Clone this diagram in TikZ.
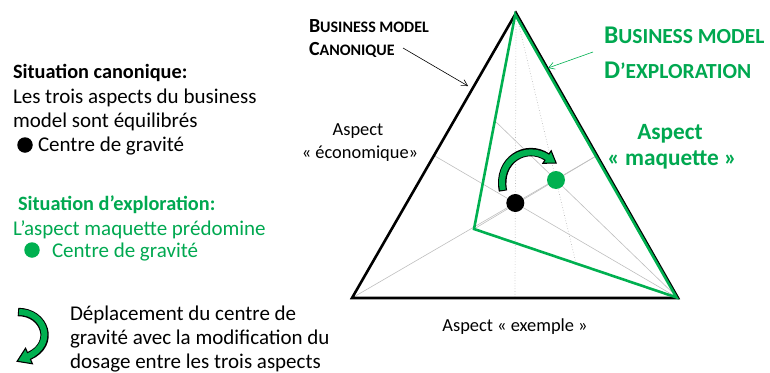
\documentclass[tikz,border=0pt]{standalone}
\usepackage{fontspec}
\setmainfont{Carlito}
\usetikzlibrary{calc,arrows.meta}
\definecolor{bmgreen}{RGB}{0,176,80}
\definecolor{txtgreen}{RGB}{0,168,80}
\definecolor{medgray}{RGB}{190,190,190}
\begin{document}
\begin{tikzpicture}[x=1pt,y=-1pt,
  every node/.style={inner sep=0pt,outer sep=0pt},
  bodytxt/.style={font=\fontsize{21}{25}\selectfont,anchor=base west},
  boldtxt/.style={font=\fontsize{20.3}{25}\selectfont\bfseries,anchor=base west},
  asptxt/.style={font=\fontsize{18.4}{22}\selectfont,anchor=base},
  maqtxt/.style={font=\fontsize{23.3}{26}\selectfont\bfseries,anchor=base,text=txtgreen},
  gdot/.style={circle,minimum size=18pt},
  ldot/.style={circle,minimum size=15.5pt},
  median/.style={medgray,line width=0.6pt},
  dmedian/.style={medgray,line width=0.7pt,dotted},
  pointer/.style={line width=0.6pt,-{Straight Barb[length=6pt,width=7pt]}},
]
\useasboundingbox (0,0) rectangle (770,372);

% ---- triangle vertices
\coordinate (A) at (516,13);
\coordinate (L) at (352,298);
\coordinate (R) at (678,298);
\coordinate (G) at (474,229);
\coordinate (mLR) at ($(L)!0.5!(R)$);
\coordinate (mAR) at ($(A)!0.5!(R)$);
\coordinate (mAL) at ($(A)!0.5!(L)$);
\coordinate (mGR) at ($(G)!0.5!(R)$);
\coordinate (mAG) at ($(A)!0.5!(G)$);
\coordinate (cB) at ($1/3*(A)+1/3*(L)+1/3*(R)$);
\coordinate (cG) at ($1/3*(A)+1/3*(G)+1/3*(R)$);

% ---- medians
\draw[dmedian] (A) -- (mLR);
\draw[median] (L) -- (mAR);
\draw[median] (R) -- (mAL);
\draw[dmedian] (A) -- (mGR);
\draw[median] (G) -- (mAR);
\draw[median] (R) -- (mAG);

% ---- triangles
\draw[line width=2.6pt,line join=miter] (A) -- (L) -- (R) -- cycle;
\draw[bmgreen,line width=2.6pt,line join=miter] ($(A)+(-0.8,1.6)$) -- (G) -- ($(R)+(-1.6,-0.6)$) -- cycle;

% ---- centres of gravity
\node[gdot,fill=black] (dotB) at (cB) {};
\node[gdot,fill=bmgreen] (dotG) at (cG) {};

% ---- curved arrow in triangle
\coordinate (ma0) at (503,191);
\coordinate (mc1) at (497,160);
\coordinate (mc2) at (526,143);
\coordinate (ma1) at (547,157);
\draw[line width=8.4pt] (ma0) .. controls (mc1) and (mc2) .. (ma1);
\filldraw[fill=bmgreen,draw=black,line width=1.1pt,line join=miter]
  ($(ma1)!7.5pt!90:(mc2)$) -- ($(ma1)!-11pt!(mc2)$) -- ($(ma1)!7.5pt!-90:(mc2)$) -- cycle;
\draw[bmgreen,line width=6pt,shorten <=1.1pt,shorten >=-1.5pt] (ma0) .. controls (mc1) and (mc2) .. (ma1);

% ---- legend arrow
\coordinate (la0) at (18,312);
\coordinate (lc1) at (45,312);
\coordinate (lc2) at (56,344);
\coordinate (la1) at (29,356);
\draw[line width=8.4pt] (la0) .. controls (lc1) and (lc2) .. (la1);
\filldraw[fill=bmgreen,draw=black,line width=1.1pt,line join=miter]
  ($(la1)!8.5pt!90:(lc2)$) -- ($(la1)!-13pt!(lc2)$) -- ($(la1)!8.5pt!-90:(lc2)$) -- cycle;
\draw[bmgreen,line width=6pt,shorten <=1.1pt,shorten >=-1.5pt] (la0) .. controls (lc1) and (lc2) .. (la1);

% ---- left legend texts
\node[boldtxt] (sc1) at (13,78) {Situation canonique:};
\node[bodytxt] (sc2) at (13,103) {Les trois aspects du business};
\node[bodytxt] (sc3) at (13,127) {model sont équilibrés};
\node[ldot,fill=black] (scdot) at (25,145) {};
\node[bodytxt] (scg) at (38,151) {Centre de gravité};
\node[boldtxt,text=txtgreen] (se1) at (18,210) {Situation d’exploration:};
\node[bodytxt,text=txtgreen] (se2) at (13,235) {L’aspect maquette prédomine};
\node[ldot,fill=bmgreen] (sedot) at (32,250) {};
\node[bodytxt,text=txtgreen] (seg) at (52,257) {Centre de gravité};
\node[bodytxt] (dp1) at (70,320) {Déplacement du centre de};
\node[bodytxt] (dp2) at (70,344) {gravité avec la modification du};
\node[bodytxt] (dp3) at (70,368) {dosage entre les trois aspects};

% ---- aspect labels
\node[asptxt] (eco1) at (358,135) {Aspect};
\node[asptxt] (eco2) at (360,158) {« économique»};
\node[maqtxt] (maq1) at (670,139) {Aspect};
\node[maqtxt] (maq2) at (672,165) {« maquette »};
\node[asptxt] (exm) at (515,331) {Aspect « exemple »};

% ---- business model labels
\node[anchor=base west,font=\bfseries] (bmc1) at (309,32)
  {\fontsize{20}{22}\selectfont B\fontsize{16}{22}\selectfont USINESS MODEL};
\node[anchor=base west,font=\bfseries] (bmc2) at (309,55)
  {\fontsize{20}{22}\selectfont C\fontsize{16}{22}\selectfont ANONIQUE};
\node[anchor=base west,font=\bfseries,text=txtgreen] (bme1) at (604,43)
  {\fontsize{25.5}{28}\selectfont B\fontsize{21.5}{28}\selectfont USINESS MODEL};
\node[anchor=base west,font=\bfseries,text=txtgreen] (bme2) at (604,78)
  {\fontsize{25.5}{28}\selectfont D\fontsize{21.5}{28}\selectfont ’EXPLORATION};

% ---- pointers
\coordinate (pcs) at (403,48);
\coordinate (pc) at (468,86);
\coordinate (pes) at (593,52);
\coordinate (pe) at (548,68);
\draw[pointer] (pcs) -- (pc);
\draw[pointer,bmgreen] (pes) -- (pe);
\end{tikzpicture}
\end{document}
